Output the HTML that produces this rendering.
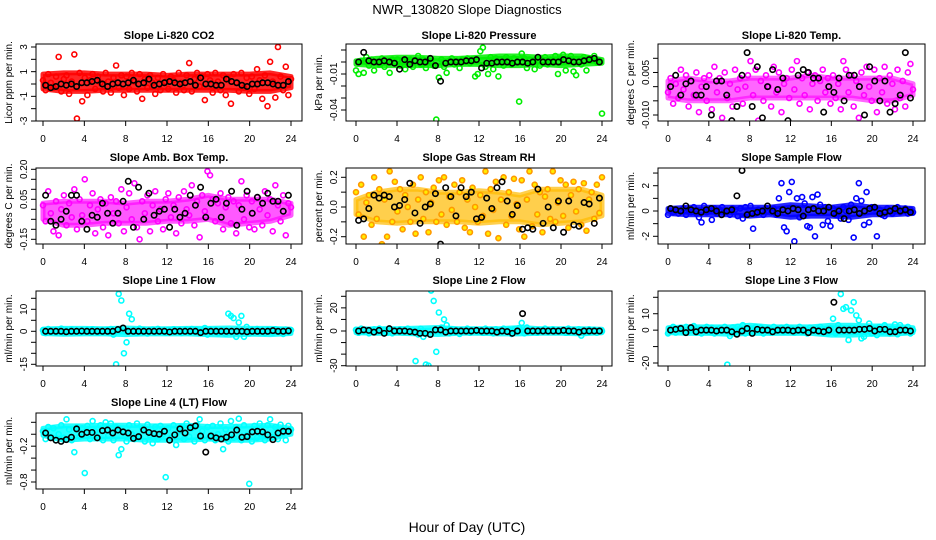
<!DOCTYPE html>
<html><head><meta charset="utf-8">
<style>
html,body{margin:0;padding:0;background:#fff;}
svg{display:block;font-family:"Liberation Sans",Arial,sans-serif;}
</style></head>
<body>
<svg id="chart" width="936" height="540" viewBox="0 0 936 540">
<text x="467" y="14" font-size="13" text-anchor="middle">NWR_130820  Slope Diagnostics</text>
<text x="467" y="532" font-size="14" text-anchor="middle">Hour of Day (UTC)</text>
</svg>
<script>
const xTicks = [0,4,8,12,16,20,24];
const bandHours = [0,2,4,6,8,10,12,14,16,18,20,22,24];

const co2Color = [0.3,-0.5,0.8,0.1,-0.3,0.6,2.2,-0.6,0.4,0.7,-0.8,0.2,2.4,-2.8,0.9,-1.4,
0.5,-0.9,0.3,0.8,-0.4,0.6,0.1,-0.6,0.9,0.2,-0.7,0.5,1.5,-0.3,0.7,-0.9,
0.6,-0.4,0.9,0.2,-0.6,0.8,-1.2,0.4,-0.3,0.7,0.1,-0.8,0.5,-0.5,0.8,0.2,
-0.4,0.6,0.3,-0.7,0.9,0.1,-0.5,0.7,1.7,-0.6,0.4,0.9,-0.2,0.6,-1.3,0.8,
0.3,-0.7,0.9,0.2,-0.5,0.7,-0.9,0.4,-1.6,0.8,0.1,-0.6,0.9,-0.3,0.5,-0.8,
0.6,-0.4,1.2,0.3,-1.2,0.7,-1.8,1.8,0.2,-1.1,3.0,0.6,-0.5,1.4,-0.9,0.4];
const co2Black = [-0.1,-0.3,-0.2,0.0,-0.1,0.0,-0.2,0.1,0.1,0.2,0.3,0.0,-0.2,0.0,0.1,0.0,0.1,0.3,0.0,0.1,0.4,-0.1,0.0,0.1,0.2,0.1,0.0,0.1,0.2,-0.1,0.5,0.0,0.0,-0.1,-0.1,0.4,0.2,0.1,-0.1,-0.2,0.0,0.0,0.1,0.1,0.0,-0.1,-0.1,0.2];
const co2BandHi = [0.8,0.9,0.9,0.8,0.8,0.8,0.7,0.8,0.8,0.8,0.8,0.9,0.6];
const co2BandLo = [-0.4,-0.6,-0.6,-0.5,-0.5,-0.5,-0.5,-0.5,-0.5,-0.5,-0.6,-0.6,-0.3];

const presColor = [-0.007,-0.01,0.001,-0.009,0.004,-0.003,0.002,-0.007,0.0,-0.002,0.003,-0.004,0.001,-0.009,0.002,0.0,
0.002,-0.003,0.001,-0.006,0.0,0.002,-0.004,0.001,0.005,-0.002,0.002,-0.005,0.001,0.0,-0.003,-0.048,
-0.013,0.002,-0.004,-0.009,0.001,0.003,-0.002,0.001,-0.005,0.002,0.0,0.003,-0.001,0.002,-0.012,-0.01,
0.009,0.012,-0.004,-0.01,0.004,-0.006,0.003,-0.012,0.002,-0.003,0.004,0.001,-0.002,0.003,0.0,-0.033,
0.007,0.003,-0.005,0.002,0.0,-0.006,0.003,-0.003,0.001,0.004,-0.002,0.002,0.001,0.005,-0.01,0.003,
0.006,-0.007,0.002,0.005,-0.008,-0.011,0.001,-0.002,0.004,-0.007,0.003,0.002,0.005,0.0,0.001,-0.043];
const presBlack = [0.0,0.008,0.001,0.0,0.0,0.001,0.0,-0.001,-0.006,0.002,-0.002,0.001,0.0,0.0,0.003,-0.003,-0.016,-0.001,0.0,0.0,0.0,0.001,0.001,0.002,-0.005,-0.001,-0.001,0.0,0.0,0.0,-0.001,0.0,0.0,-0.001,0.0,0.004,0.0,0.0,0.0,0.0,0.002,0.001,0.0,0.0,0.001,0.002,0.003,0.0];
const presBandHi = [0.001,0.003,0.004,0.004,0.003,0.003,0.004,0.005,0.005,0.004,0.005,0.005,0.002];
const presBandLo = [-0.002,-0.003,-0.003,-0.003,-0.003,-0.002,-0.002,-0.003,-0.003,-0.002,-0.003,-0.002,-0.001];

const tempColor = [-0.002,0.003,-0.006,0.001,-0.004,0.006,-0.001,0.004,-0.007,0.002,-0.003,0.005,-0.009,0.0,0.003,-0.005,
0.004,-0.008,0.007,-0.002,0.003,-0.011,0.005,-0.004,0.001,-0.007,0.006,-0.001,0.003,-0.006,0.0,0.004,
0.009,-0.003,0.006,-0.012,0.002,-0.005,0.004,0.0,-0.007,0.007,-0.002,0.005,-0.009,0.001,0.003,-0.004,
0.006,-0.001,0.009,-0.006,0.003,-0.003,0.005,-0.008,0.001,0.004,-0.005,0.002,0.006,-0.002,0.003,-0.006,
0.004,-0.004,0.001,-0.008,0.009,0.006,-0.002,0.004,-0.007,0.002,-0.011,0.005,-0.003,0.007,0.0,-0.005,
0.006,-0.009,0.003,-0.002,0.007,-0.006,0.004,0.001,-0.008,0.006,-0.004,0.002,-0.007,0.005,0.008,-0.001];
const tempBlack = [0.0,0.004,-0.003,0.001,0.002,-0.003,-0.003,0.0,-0.01,0.002,0.002,-0.003,-0.012,-0.007,0.004,0.012,-0.007,0.007,-0.011,0.0,0.006,-0.001,0.003,-0.012,-0.014,0.004,0.006,0.005,0.003,0.003,-0.009,0.0,-0.002,0.003,-0.005,0.004,0.004,0.0,-0.01,0.007,0.002,-0.005,0.002,-0.009,-0.006,-0.003,0.012,-0.004];
const tempBandHi = [0.002,0.003,0.002,0.002,0.003,0.003,0.003,0.004,0.003,0.003,0.003,0.003,0.001];
const tempBandLo = [-0.004,-0.005,-0.005,-0.005,-0.004,-0.004,-0.004,-0.004,-0.004,-0.004,-0.005,-0.005,-0.003];

const ambColor = [0.02,-0.06,0.09,-0.02,-0.11,0.04,-0.13,0.0,0.07,-0.08,0.03,-0.04,0.1,-0.1,0.05,-0.03,
0.15,-0.06,0.02,0.08,-0.12,0.0,0.05,-0.09,0.03,-0.13,0.06,-0.02,0.04,-0.07,0.1,-0.11,
0.01,0.08,-0.05,0.13,-0.09,-0.15,0.04,-0.02,0.07,-0.11,0.02,0.09,-0.06,0.0,-0.1,0.05,
0.08,-0.04,0.02,-0.12,0.06,-0.07,0.09,0.0,-0.03,0.12,-0.08,0.04,-0.14,0.07,-0.01,0.19,
0.17,0.05,-0.06,0.03,0.08,-0.1,0.01,0.06,-0.07,0.04,-0.12,0.02,0.14,-0.05,0.07,-0.09,
0.04,-0.1,0.06,0.0,-0.08,0.09,-0.03,0.05,-0.11,0.12,0.02,-0.06,0.07,-0.13,0.03,0.01];
const ambBlack = [0.07,-0.06,-0.08,-0.05,-0.01,0.07,0.07,-0.06,-0.1,-0.03,-0.04,0.03,-0.02,-0.07,-0.02,0.04,0.14,-0.09,0.11,-0.05,0.08,-0.03,-0.01,0.0,-0.09,0.0,-0.04,-0.02,0.07,0.02,0.11,-0.04,0.03,0.05,-0.04,0.03,0.09,-0.08,0.0,0.09,-0.02,0.06,0.03,0.08,0.04,0.04,-0.01,0.07];
const ambBandHi = [0.03,0.04,0.04,0.04,0.03,0.04,0.04,0.05,0.07,0.05,0.05,0.05,0.03];
const ambBandLo = [-0.05,-0.08,-0.08,-0.07,-0.07,-0.07,-0.06,-0.06,-0.05,-0.08,-0.07,-0.06,-0.03];

const rhColor = [0.1,-0.05,0.15,-0.2,0.03,0.08,-0.12,0.2,-0.08,0.12,-0.25,0.05,-0.2,0.24,-0.1,0.17,
-0.03,0.12,-0.15,0.08,0.0,-0.1,0.15,-0.18,0.05,0.2,-0.08,0.1,-0.17,0.03,0.13,-0.1,
0.18,-0.05,0.2,-0.12,0.07,-0.02,0.15,-0.1,0.1,0.18,-0.14,0.05,-0.17,0.13,0.0,-0.1,
0.08,-0.06,0.24,-0.18,0.12,-0.02,0.17,-0.21,0.05,0.2,-0.12,0.1,-0.06,0.19,0.02,-0.15,
0.18,-0.2,0.05,0.24,-0.13,0.15,-0.05,0.1,-0.17,0.07,0.12,-0.08,0.24,-0.1,0.03,0.18,
-0.06,0.15,-0.14,0.08,0.17,-0.03,0.12,-0.12,0.16,-0.16,0.05,0.1,-0.08,0.15,-0.04,0.2];
const rhBlack = [-0.09,-0.08,-0.01,0.08,0.06,0.08,0.07,0.0,0.01,0.05,0.16,-0.04,-0.11,0.0,0.02,0.09,-0.25,0.13,0.07,-0.06,0.13,0.07,0.1,-0.08,-0.07,0.06,-0.01,0.13,0.17,0.04,-0.05,0.01,-0.15,-0.14,-0.15,0.12,-0.11,0.0,-0.14,0.04,-0.17,0.04,-0.12,-0.13,0.03,0.02,-0.11,0.06];
const rhBandHi = [0.05,0.1,0.12,0.12,0.1,0.1,0.11,0.1,0.08,0.12,0.12,0.12,0.08];
const rhBandLo = [-0.05,-0.1,-0.11,-0.1,-0.1,-0.1,-0.11,-0.1,-0.1,-0.12,-0.11,-0.1,-0.06];

const sampColor = [-0.3,0.2,-0.1,0.1,-0.2,0.0,0.2,-0.3,0.1,-0.1,0.3,-0.2,-0.5,-0.9,0.4,-0.1,
0.0,-0.7,0.2,-0.2,0.1,0.3,-0.1,0.0,-0.3,0.2,0.1,-0.4,0.2,-0.6,0.3,-0.2,
0.4,-1.4,-0.2,0.1,0.0,-0.3,0.2,0.0,-0.1,0.2,-0.3,1.0,2.2,-1.3,-1.6,1.5,
2.3,-2.4,1.0,-0.5,1.1,0.6,-1.2,-1.3,1.1,-2.0,1.3,0.5,-1.1,0.3,-0.8,-1.2,
0.2,-0.3,0.1,-0.6,0.3,0.0,-0.7,0.5,-2.1,1.0,2.2,0.8,-1.1,1.5,-0.9,0.3,
0.2,-2.0,0.1,-0.3,-0.4,0.2,0.0,-0.2,0.1,0.3,-0.1,0.0,0.2,-0.2,0.1,-0.1];
const sampBlack = [0.2,0.1,0.0,0.4,0.1,0.0,-0.1,0.1,0.2,0.0,-0.3,0.0,0.1,1.2,3.2,-0.3,-0.2,-0.1,0.0,0.4,0.0,-0.2,0.1,0.0,0.2,0.1,-0.4,0.1,0.2,0.0,0.0,0.3,-0.2,0.0,-0.6,0.0,0.1,-0.2,0.0,0.2,0.3,-0.2,-0.1,0.0,0.2,0.0,0.1,-0.1];
const sampBandHi = [0.2,0.3,0.3,0.3,0.3,0.3,0.5,0.4,0.3,0.5,0.3,0.3,0.2];
const sampBandLo = [-0.2,-0.3,-0.3,-0.3,-0.4,-0.3,-0.5,-0.4,-0.4,-0.5,-0.3,-0.3,-0.2];

const l1Color = [0.5,-0.8,1.0,-0.3,0.6,-0.5,0.2,1.2,-0.6,0.4,-0.2,0.8,-0.4,0.3,-0.7,0.5,
-0.3,0.6,-0.5,0.9,0.1,-0.6,0.4,-0.2,0.7,-0.4,1.0,-1.5,-15,17,14,-10,
-5,8,5.5,0.6,-0.8,1.2,-0.4,0.5,-1.0,0.3,0.8,-0.5,1.1,-0.3,0.4,-0.7,
0.6,-0.4,0.9,-0.2,0.5,-0.8,0.3,0.7,-0.5,1.0,-0.3,0.6,-0.6,0.4,1.5,-1.5,
0.8,-0.4,0.6,-0.9,0.3,0.5,-1.2,8,7,6,-2.5,4,7,-2.5,2,-1,
0.7,-0.5,1.0,-0.3,0.4,-0.8,0.6,0.2,-0.6,0.9,-0.3,0.5,-1.2,0.8,-0.2,0.5];
const l1Black = [0,0,0,0,-0.2,0,0,0.1,0,0,0,0,0,0,0.8,1.5,0,0,0,0,0,0,0,0,-0.3,0,0,0,0,0,-0.6,0,0,0,0,0,0,0,0,-0.2,0,0,0,0,0.3,0,0,0.2];
const l1BandHi = [1,1.3,1.3,1.2,1.5,1.2,1.2,1.3,1.3,1.5,1.3,1.3,1];
const l1BandLo = [-1,-1.3,-1.2,-1.2,-1.5,-1.2,-1.2,-1.2,-1.5,-1.8,-1.3,-1.5,-1];

const l2Color = [1,-1.5,2,-0.5,1,-2,0.5,1.5,-1,2,-0.5,1,-1.5,0.5,-2,1,
-0.5,1.5,-1,0.5,2,-1.5,0.5,-26,-3,2,-5,-29,-30,35,26,-18,
16,3,10,5,-2,1.5,-1,0.5,-2.5,1,-0.5,2,-1.5,0.5,1,-1,
0.5,-1.5,2,-0.5,1,-2,1.5,-1,0.5,2,-0.5,1,-2.5,1.5,-0.5,2.5,
7,-2,3,1,-1,0.5,-1.5,1,-0.5,2,-1,0.5,1.5,-1,0.5,-0.5,
1,-1.5,2,-0.5,0.5,-1,1.5,-4,0.5,-1,1.5,-0.5,1,-1.5,0.5,0];
const l2Black = [0,1,0.5,-1,0.5,-2,2,0,0,0,-0.5,-1,-2,-2,-3,1,1,-1,0,0,0,0,0,0.5,0,0,0,-1,0,-0.5,-2,0,15,0,0,0,0,0,0,0,0.5,0,0,-1,0,0,0,0];
const l2BandHi = [1.5,2,2,2.5,3,2,2,2,3,2,2,2,1.5];
const l2BandLo = [-1.5,-2,-2,-2.5,-3,-2,-2,-2.5,-2.5,-2,-2,-2.5,-1.5];

const l3Color = [-2,1,2,-1.5,0.5,1.5,-1,2,-0.5,1,2.5,-1.5,0.5,-2,1,2,
-1,1.5,-2,0.5,1,-0.5,2,-21,-3.5,1.5,-1,2,0.5,3,-2,1,
0.5,-1,2,-0.5,1.5,-2,0.5,1,-1.5,2,-0.5,0.5,1.5,-1,2,-0.5,
1,-1.5,0.5,2,-1,0.5,-2,1.5,0.5,-0.5,1,2,-1.5,0.5,-2,1,
7,-2,3,22,13,14,-6,12,17,9,6,-5,-4,1,4,-2,
1,-3,2,-1,3,0.5,-2,1,3.5,-2.5,3,0.5,-1,2,-2,0];
const l3Black = [0,0.5,1,-1.5,1.5,-1,0,0,0,-0.5,0,0,-1,-2.5,-0.5,1,-2,0.5,0,0,-1,0,0,0,-0.5,0,0,-1.5,0,-0.5,-1,0,17,0,0,0,0,0.5,0.5,1,-0.5,0.5,0.5,-1,-1,0,0,-0.5];
const l3BandHi = [1.5,2,2,2,3,2,2,2,3,3,2.5,2.5,1.5];
const l3BandLo = [-1.5,-2,-2,-2.5,-2,-2,-2,-2,-3,-3,-2.5,-2.5,-1.5];

const l4Color = [0.05,-0.08,0.12,-0.05,0.1,-0.1,0.0,0.15,-0.06,0.25,0.08,-0.1,-0.3,0.12,-0.04,0.1,
-0.65,0.14,-0.08,0.22,0.05,-0.06,0.15,-0.1,0.2,-0.02,0.18,-0.1,0.12,-0.35,-0.25,0.05,
-0.12,0.15,0.0,-0.08,0.18,-0.05,0.1,-0.12,0.16,-0.02,-0.15,0.12,-0.08,0.14,0.0,-0.72,
0.1,-0.06,0.15,-0.18,0.05,0.12,-0.08,0.18,-0.04,0.1,-0.12,0.15,0.25,0.05,-0.1,0.12,
-0.05,0.14,-0.1,0.0,0.18,-0.25,0.08,-0.12,0.22,-0.06,0.12,0.26,-0.1,0.15,-0.02,-0.83,
-0.12,0.14,-0.06,0.18,0.0,-0.1,0.15,0.25,-0.05,0.12,-0.08,0.16,0.02,-0.1,0.14,0.08];
const l4Black = [0.02,-0.06,-0.1,-0.12,-0.09,-0.05,0.09,0.0,0.03,0.03,-0.06,0.06,0.07,0.02,0.07,0.04,0.02,-0.07,-0.04,0.07,0.03,0.01,0.0,0.05,-0.1,-0.01,0.09,0.02,0.11,0.14,-0.03,-0.3,-0.03,-0.06,-0.08,-0.05,-0.01,0.07,-0.05,-0.04,0.04,0.05,0.04,-0.01,-0.09,0.02,0.05,0.05];
const l4BandHi = [0.1,0.14,0.14,0.15,0.15,0.14,0.14,0.15,0.13,0.13,0.14,0.15,0.1];
const l4BandLo = [-0.02,-0.1,-0.08,-0.08,-0.08,-0.1,-0.1,-0.1,-0.08,-0.1,-0.1,-0.08,0.0];

const panels = [
 {name:'co2',title:'Slope Li-820 CO2',ylab:'Licor ppm per min.',col:0,row:0,color:'#ff0000',fill:'none',c:co2Color,b:co2Black,hi:co2BandHi,lo:co2BandLo,op:0.85,
  v1:3,p1:47,v2:-3,p2:121,ticks:[-3,-2,-1,0,1,2,3],labels:[3,1,-1,-3],dec:0},
 {name:'pressure',title:'Slope Li-820 Pressure',ylab:'kPa per min.',col:1,row:0,color:'#00ee00',fill:'none',c:presColor,b:presBlack,hi:presBandHi,lo:presBandLo,op:0.85,
  v1:0.01,p1:50,v2:-0.04,p2:110,ticks:[0.01,0,-0.01,-0.02,-0.03,-0.04],labels:[-0.01,-0.04],dec:2},
 {name:'temp',title:'Slope Li-820 Temp.',ylab:'degrees C per min.',col:2,row:0,color:'#ff00ff',fill:'none',c:tempColor,b:tempBlack,hi:tempBandHi,lo:tempBandLo,op:0.6,
  v1:0.01,p1:58.3,v2:-0.01,p2:115,ticks:[0.01,0.005,0,-0.005,-0.01],labels:[0.005,-0.01],dec:3},
 {name:'amb-box-temp',title:'Slope Amb. Box Temp.',ylab:'degrees C per min.',col:0,row:1,color:'#ff00ff',fill:'none',c:ambColor,b:ambBlack,hi:ambBandHi,lo:ambBandLo,op:0.65,
  v1:0.2,p1:169.3,v2:-0.15,p2:239.3,ticks:[0.2,0.15,0.1,0.05,0,-0.05,-0.1,-0.15],labels:[0.2,0.05,-0.15],dec:2},
 {name:'gas-stream-rh',title:'Slope Gas Stream RH',ylab:'percent per min.',col:1,row:1,color:'#ff9900',fill:'#ffee00',c:rhColor,b:rhBlack,hi:rhBandHi,lo:rhBandLo,band:'#ffbb00',op:0.7,
  v1:0.2,p1:177.3,v2:-0.2,p2:236.7,ticks:[0.2,0.1,0,-0.1,-0.2],labels:[0.2,0,-0.2],dec:1},
 {name:'sample-flow',title:'Slope Sample Flow',ylab:'ml/min per min.',col:2,row:1,color:'#0000ff',fill:'none',c:sampColor,b:sampBlack,hi:sampBandHi,lo:sampBandLo,op:0.85,
  v1:2,p1:185.7,v2:-2,p2:236.3,ticks:[3,2,1,0,-1,-2],labels:[2,0,-2],dec:0},
 {name:'line1-flow',title:'Slope Line 1 Flow',ylab:'ml/min per min.',col:0,row:2,color:'#00ffff',fill:'none',c:l1Color,b:l1Black,hi:l1BandHi,lo:l1BandLo,op:0.85,
  v1:10,p1:309.3,v2:-15,p2:364.3,ticks:[15,10,5,0,-5,-10,-15],labels:[10,0,-15],dec:0},
 {name:'line2-flow',title:'Slope Line 2 Flow',ylab:'ml/min per min.',col:1,row:2,color:'#00ffff',fill:'none',c:l2Color,b:l2Black,hi:l2BandHi,lo:l2BandLo,op:0.85,
  v1:30,p1:296.3,v2:-30,p2:365.7,ticks:[30,20,10,0,-10,-20,-30],labels:[20,0,-30],dec:0},
 {name:'line3-flow',title:'Slope Line 3 Flow',ylab:'ml/min per min.',col:2,row:2,color:'#00ffff',fill:'none',c:l3Color,b:l3Black,hi:l3BandHi,lo:l3BandLo,op:0.85,
  v1:20,p1:297.3,v2:-20,p2:363,ticks:[20,10,0,-10,-20],labels:[10,0,-20],dec:0},
 {name:'line4-flow',title:'Slope Line 4 (LT) Flow',ylab:'ml/min per min.',col:0,row:3,color:'#00ffff',fill:'none',c:l4Color,b:l4Black,hi:l4BandHi,lo:l4BandLo,op:0.85,
  v1:0.2,p1:422.3,v2:-0.8,p2:482,ticks:[0.2,0,-0.2,-0.4,-0.6,-0.8],labels:[-0.2,-0.8],dec:1}
];

const colBox = [[36,302,43,291],[346,612,356,602],[658,925,668,913]];
const rowBox = [[44,121,35],[168,244,157],[291,366,280],[413,489,402]];
const NS = 'http://www.w3.org/2000/svg';
const svg = document.getElementById('chart');
function mk(tag, attrs, parent){const e=document.createElementNS(NS,tag);for(const k in attrs)e.setAttribute(k,attrs[k]);(parent||svg).appendChild(e);return e;}

panels.forEach(p=>{
  const [L,R,x0,x24] = colBox[p.col];
  const [T,B,ty] = rowBox[p.row];
  const xs = h => x0 + (x24-x0)*h/24;
  const ys = v => p.p1 + (p.p2-p.p1)*(v-p.v1)/(p.v2-p.v1);
  const g = mk('g',{});
  
  
  const clip = mk('clipPath',{id:'clip-'+p.name},g);
  mk('rect',{x:L,y:T,width:R-L,height:B-T},clip);
  const title = mk('text',{x:(L+R)/2,y:ty+4,'font-size':11,'font-weight':'bold','text-anchor':'middle'},g);
  
  
  title.textContent = p.title;
  const yl = mk('text',{x:0,y:0,'font-size':10,'text-anchor':'middle',transform:`translate(${L-24},${(T+B)/2}) rotate(-90)`},g);
  
  
  yl.textContent = p.ylab;
  xTicks.forEach(t=>{
    const tk = mk('line',{x1:xs(t),x2:xs(t),y1:B,y2:B+5,stroke:'#000','stroke-width':1},g);
    
    
    const lb = mk('text',{x:xs(t),y:B+21,'font-size':10,'text-anchor':'middle'},g);
    
    
    lb.textContent = t;
  });
  p.ticks.forEach(t=>{
    const tk = mk('line',{x1:L-5,x2:L,y1:ys(t),y2:ys(t),stroke:'#000','stroke-width':1},g);
    
    
  });
  p.labels.forEach(t=>{
    const lb = mk('text',{x:0,y:0,'font-size':10,'text-anchor':'middle',transform:`translate(${L-9},${ys(t)}) rotate(-90)`},g);
    
    
    lb.textContent = t.toFixed(p.dec);
  });
  const pts = mk('g',{'clip-path':`url(#clip-${p.name})`},g);
  
  
  let d = '';
  bandHours.forEach((h,i)=>{ d += (i?'L':'M') + xs(h).toFixed(1) + ',' + ys(p.hi[i]).toFixed(1); });
  for(let i=bandHours.length-1;i>=0;i--){ d += 'L' + xs(bandHours[i]).toFixed(1) + ',' + ys(p.lo[i]).toFixed(1); }
  d += 'Z';
  const band = mk('path',{d:d,fill:p.band||p.color,stroke:p.band||p.color,'stroke-width':5,'stroke-linejoin':'round','fill-opacity':p.op,'stroke-opacity':p.op},pts);
  
  
  p.c.forEach((v,i)=>{
    const h = i*24/(p.c.length-1);
    const c = mk('circle',{cx:xs(h),cy:ys(v),r:2.5,fill:p.fill,stroke:p.color,'stroke-width':1.6},pts);
    
    
  });
  p.b.forEach((v,i)=>{
    const h = 0.25 + i*23.5/(p.b.length-1);
    const c = mk('circle',{cx:xs(h),cy:ys(v),r:2.7,fill:'none',stroke:'#000','stroke-width':1.6},pts);
    
    
  });
  const box = mk('rect',{x:L,y:T,width:R-L,height:B-T,fill:'none',stroke:'#000','stroke-width':1},g);
  
  
});
</script>
</body></html>
